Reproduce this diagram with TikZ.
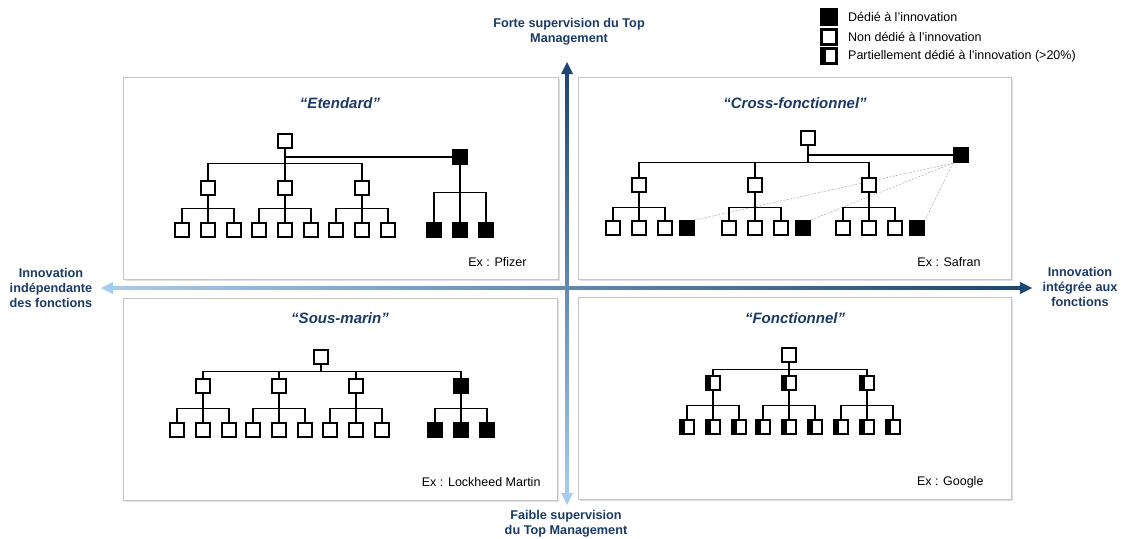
\documentclass[tikz,border=0pt]{standalone}
\usepackage{fontspec}
\setmainfont{Liberation Sans}
\usetikzlibrary{shadows,positioning}
\definecolor{navy}{HTML}{1A3A66}
\definecolor{axdark}{HTML}{1C4673}
\definecolor{axlight}{HTML}{A6CDF0}
\definecolor{dashgray}{HTML}{BDBDBD}
\tikzset{
  sq/.style={draw, line width=2.3pt, fill=white, minimum size=14pt, inner sep=0pt},
  sqfull/.style={sq, fill=black},
  sqpart/.style={sq, path picture={\fill[black] (path picture bounding box.north west) rectangle ([xshift=4.5pt]path picture bounding box.south west);}},
  link/.style={line width=1.2pt},
  panel/.style={draw=gray!45, line width=0.6pt, fill=white, drop shadow={shadow xshift=2pt, shadow yshift=-2pt, opacity=0.25}},
  title/.style={font=\fontsize{15}{18}\selectfont\bfseries\itshape, text=navy},
  example/.style={font=\fontsize{12.5}{15}\selectfont, anchor=east},
  legend/.style={font=\fontsize{12.5}{15}\selectfont, anchor=west},
  axlabel/.style={font=\fontsize{12.7}{15}\selectfont\bfseries, text=navy, align=center},
  crossline/.style={dashgray, line width=0.7pt, dash pattern=on 2pt off 1.5pt}
}
\begin{document}
\begin{tikzpicture}[x=1pt, y=-1pt]
        \useasboundingbox (0,0) rectangle (1126,538);
        % panels
        \draw[panel] (123,77) rectangle (558,279);\draw[panel] (578,77) rectangle (1011,279);
        \draw[panel] (123,298) rectangle (557,500);\draw[panel] (578,297) rectangle (1011,499);

        % axes
        \shade[left color=axlight, right color=axdark] (112,286.2) rectangle (1021,289.8);
        \fill[axlight] (101,288) -- (113,282) -- (113,294) -- cycle;\fill[axdark] (1032,288) -- (1020,282) -- (1020,294) -- cycle;
        \shade[top color=axdark, bottom color=axlight] (565.2,73) rectangle (568.8,495);
        \fill[axdark] (567,62) -- (561,74) -- (573,74) -- cycle;\fill[axlight] (567,505) -- (561,493) -- (573,493) -- cycle;
        \node[axlabel] (top) at (569,32) {Forte supervision du Top\\Management};
        \node[axlabel] (bottom) at (566,524) {Faible supervision\\du Top Management};
        \node[axlabel] (left) at (51,288) {Innovation\\indépendante\\des fonctions};
        \node[axlabel] (right) at (1080,287) {Innovation\\intégrée aux\\fonctions};

        % legend
        \node[sqfull, minimum size=15pt] (lg1) at (829,17) {};\node[legend, right=7pt of lg1] (lt1) {Dédié à l’innovation};
        \node[sq, minimum size=15pt] (lg2) at (829,37) {};\node[legend, right=7pt of lg2] (lt2) {Non dédié à l’innovation};
        \node[sqpart, minimum size=15pt] (lg3) at (829,56) {};\node[legend, right=7pt of lg3] (lt3) {Partiellement dédié à l’innovation (>20\%)};

        % etendard
        \node[title] (et) at (340,103) {“Etendard”};\node[example] (ex1) at (530,262) {Ex : Pfizer};
        \node[sq] (e0) at (285,141) {};\node[sqfull] (eb) at (460,157) {};
        \draw[link] (e0 |- eb) -- (eb.west);
        \foreach \p/\x in {e1/208,e2/285,e3/362}{
          \node[sq] (\p) at (\x,188) {};\draw[link] (e0.south) -- ++(0,14) -| (\p.north);
          \foreach \i/\d in {1/-26,2/0,3/26}{\node[sq] (\p\i) at ({\x+\d},230) {};\draw[link] (\p.south) -- ++(0,12) -| (\p\i.north);}
        }
        \foreach \i/\d in {1/-26,2/0,3/26}{\node[sqfull] (eb\i) at ({460+\d},230) {};\draw[link] (eb.south) -- ++(0,27) -| (eb\i.north);}

        % cross-fonctionnel
        \node[title] (ct) at (795,103) {“Cross-fonctionnel”};\node[example] (ex2) at (984,262) {Ex : Safran};
        \node[sq] (c0) at (808,138) {};\node[sqfull] (cb) at (961,155) {};
        \draw[link] (c0 |- cb) -- (cb.west);
        \foreach \p/\x in {c1/639,c2/755,c3/869}{
          \node[sq] (\p) at (\x,185) {};\draw[link] (c0.south) -- ++(0,16) -| (\p.north);
          \foreach \i/\d in {1/-26,2/0,3/26}{\node[sq] (\p\i) at ({\x+\d},228) {};\draw[link] (\p.south) -- ++(0,14) -| (\p\i.north);}
          \node[sqfull] (\p4) at ({\x+48},228) {};
          \draw[crossline] (cb.south west) -- (\p4.north east);
        }

        % sous-marin
        \node[title] (st) at (340,318) {“Sous-marin”};\node[example] (ex3) at (544,482) {Ex : Lockheed Martin};
        \node[sq] (s0) at (321,357) {};
        \foreach \p/\x in {s1/203,s2/279,s3/356}{
          \node[sq] (\p) at (\x,386) {};\draw[link] (s0.south) -- ++(0,6) -| (\p.north);
          \foreach \i/\d in {1/-26,2/0,3/26}{\node[sq] (\p\i) at ({\x+\d},430) {};\draw[link] (\p.south) -- ++(0,14) -| (\p\i.north);}
        }
        \node[sqfull] (sb) at (461,386) {};\draw[link] (s0.south) -- ++(0,6) -| (sb.north);
        \foreach \i/\d in {1/-26,2/0,3/26}{\node[sqfull] (sb\i) at ({461+\d},430) {};\draw[link] (sb.south) -- ++(0,14) -| (sb\i.north);}

        % fonctionnel
        \node[title] (ft) at (795,318) {“Fonctionnel”};\node[example] (ex4) at (987,482) {Ex : Google};
        \node[sq] (f0) at (789,355) {};
        \foreach \p/\x in {f1/713,f2/789,f3/867}{
          \node[sqpart] (\p) at (\x,383) {};\draw[link] (f0.south) -- ++(0,6) -| (\p.north);
          \foreach \i/\d in {1/-26,2/0,3/26}{\node[sqpart] (\p\i) at ({\x+\d},427) {};\draw[link] (\p.south) -- ++(0,14) -| (\p\i.north);}
        }
\end{tikzpicture}
\end{document}
